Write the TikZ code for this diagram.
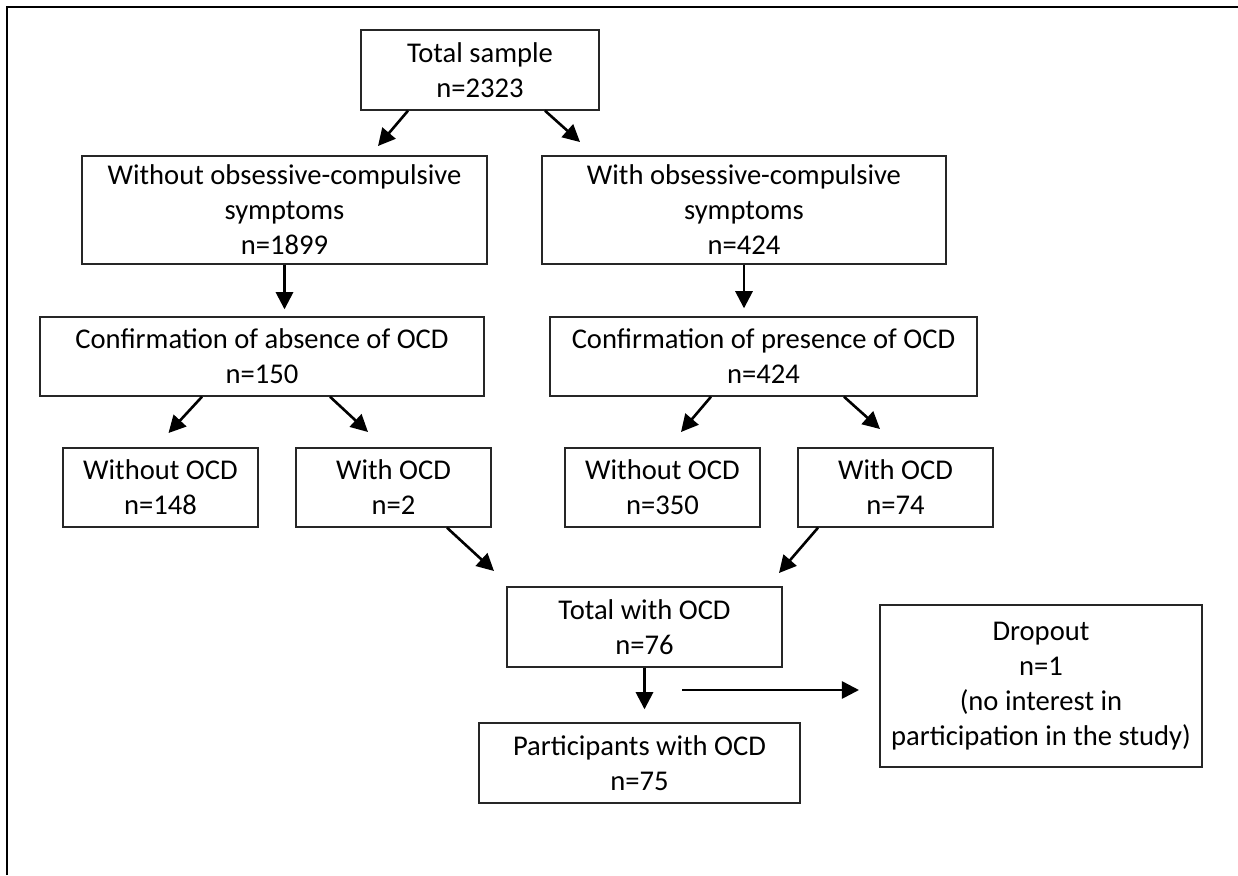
\documentclass[tikz,border=0pt]{standalone}
\usepackage{fontspec}
\setmainfont{Carlito}
\usetikzlibrary{arrows.meta}

\begin{document}
\begin{tikzpicture}[x=0.5pt, y=-0.5pt, >={Triangle[length=3mm, width=3mm]}, line width=0.7pt,
  caja/.style={draw=black!85, align=center, inner sep=0pt, font=\fontsize{14.3}{17.5}\selectfont},
  flecha/.style={->, line width=1.3pt}]
  \useasboundingbox (0,0) rectangle (1238,875);
  % marco
  \draw[line width=1pt] (7,875) -- (7,7) -- (1238,7);
  % muestra total
  \node[caja, minimum width=119pt, minimum height=40pt] (total) at (480,70) {Total sample\\n=2323};
  % sintomas
  \node[caja, minimum width=202.5pt, minimum height=54pt] (sinsint) at (284.5,210) {Without obsessive-compulsive\\symptoms\\n=1899};
  \node[caja, minimum width=202pt, minimum height=54pt] (consint) at (744,210) {With obsessive-compulsive\\symptoms\\n=424};
  % confirmacion
  \node[caja, minimum width=222pt, minimum height=39.5pt] (ausencia) at (262,356.5) {Confirmation of absence of OCD\\n=150};
  \node[caja, minimum width=213.5pt, minimum height=39.5pt] (presencia) at (763.5,356.5) {Confirmation of presence of OCD\\n=424};
  % diagnosticos
  \node[caja, minimum width=97.5pt, minimum height=39.5pt] (sin1) at (160.5,487.5) {Without OCD\\n=148};
  \node[caja, minimum width=97.5pt, minimum height=39.5pt] (con1) at (393.5,487.5) {With OCD\\n=2};
  \node[caja, minimum width=97.5pt, minimum height=39.5pt] (sin2) at (662.5,487.5) {Without OCD\\n=350};
  \node[caja, minimum width=97.5pt, minimum height=39.5pt] (con2) at (895.5,487.5) {With OCD\\n=74};
  % total, participantes y abandono
  \node[caja, minimum width=137.5pt, minimum height=40pt] (totalocd) at (644.5,627) {Total with OCD\\n=76};
  \node[caja, minimum width=160.5pt, minimum height=40pt] (part) at (639.5,763) {Participants with OCD\\n=75};
  \node[caja, minimum width=161pt, minimum height=81pt] (dropout) at (1041,686) {Dropout\\n=1\\(no interest in\\participation in the study)};
  % puntas libres
  \coordinate (t1) at (378,146);
  \coordinate (t2) at (580,142);
  \coordinate (t3) at (168.5,433);
  \coordinate (t4) at (368,432);
  \coordinate (t5) at (681,432);
  \coordinate (t6) at (880,429);
  \coordinate (t7) at (494,571);
  \coordinate (t8) at (779,573);
  \coordinate (salida) at (682,690);
  \coordinate (t9) at (859,690);
  % flechas
  \draw[flecha] ([xshift=-36pt]total.south) -- (t1);
  \draw[flecha] ([xshift=32.5pt]total.south) -- (t2);
  \draw[flecha, shorten >=3.5pt] (sinsint.south) -- (sinsint.south |- ausencia.north);
  \draw[flecha, shorten >=4pt] (consint.south) -- (consint.south |- presencia.north);
  \draw[flecha] ([xshift=-30pt]ausencia.south) -- (t3);
  \draw[flecha] ([xshift=34pt]ausencia.south) -- (t4);
  \draw[flecha] ([xshift=-26.25pt]presencia.south) -- (t5);
  \draw[flecha] ([xshift=40.25pt]presencia.south) -- (t6);
  \draw[flecha] ([xshift=26.75pt]con1.south) -- (t7);
  \draw[flecha] ([xshift=-38.75pt]con2.south) -- (t8);
  \draw[flecha, shorten >=6.5pt] (totalocd.south) -- (totalocd.south |- part.north);
  \draw[flecha] (salida) -- (t9);
\end{tikzpicture}
\end{document}
